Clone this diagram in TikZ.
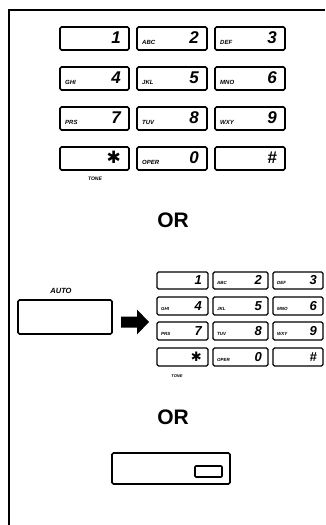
\documentclass[tikz,border=0pt]{standalone}
\usepackage{fontspec}
\setmainfont{Liberation Sans}
\begin{document}
\begin{tikzpicture}[x=1pt,y=-1pt,
  keybox/.style={draw,line width=1.6pt,rounded corners=1.5pt},
  bigdigit/.style={anchor=base east,inner sep=0pt,font=\fontsize{17}{17}\selectfont\itshape\bfseries},
  smalldigit/.style={anchor=base east,inner sep=0pt,font=\fontsize{13}{13}\selectfont\itshape\bfseries},
  biglet/.style={anchor=base west,inner sep=0pt,font=\fontsize{6}{6}\selectfont\itshape\bfseries},
  smalllet/.style={anchor=base west,inner sep=0pt,font=\fontsize{4.5}{4.5}\selectfont\itshape\bfseries},
  ortext/.style={inner sep=0pt,font=\fontsize{21}{21}\selectfont\bfseries},
  tiny/.style={inner sep=0pt,font=\fontsize{5}{5}\selectfont\itshape\bfseries}]
\useasboundingbox (0,0) rectangle (325,525);
% frame
\draw[line width=1.4pt] (9,525) -- (9,10) -- (325,10);
% big keypad
\foreach \r/\ya/\yb in {1/27/50,2/67/90,3/107/130,4/147/170}{
  \foreach \c/\xa/\xb in {1/60/129,2/137/207,3/215/285}{
    \draw[keybox] (\xa,\ya) rectangle (\xb,\yb);
    \coordinate (B\r\c a) at (\xa+5,\yb-6);
    \coordinate (B\r\c b) at (\xb-8,\yb-6.5);
  }
}
\node[bigdigit] (b1) at (B11b) {1};
\node[bigdigit] (b2) at (B12b) {2};
\node[bigdigit] (b3) at (B13b) {3};
\node[bigdigit] (b4) at (B21b) {4};
\node[bigdigit] (b5) at (B22b) {5};
\node[bigdigit] (b6) at (B23b) {6};
\node[bigdigit] (b7) at (B31b) {7};
\node[bigdigit] (b8) at (B32b) {8};
\node[bigdigit] (b9) at (B33b) {9};
\node[bigdigit] (bs) at (B41b) {\fontspec{DejaVu Sans}\bfseries ✱};
\node[bigdigit] (b0) at (B42b) {0};
\node[bigdigit] (bh) at (B43b) {\#};
\node[biglet] (la) at (B12a) {ABC};
\node[biglet] (ld) at (B13a) {DEF};
\node[biglet] (lg) at (B21a) {GHI};
\node[biglet] (lj) at (B22a) {JKL};
\node[biglet] (lm) at (B23a) {MNO};
\node[biglet] (lp) at (B31a) {PRS};
\node[biglet] (lt) at (B32a) {TUV};
\node[biglet] (lw) at (B33a) {WXY};
\node[biglet] (lo) at (B42a) {OPER};
\node[tiny] (tone1) at (95,179) {TONE};
\node[ortext] (or1) at (173,220) {OR};
% auto key
\node[tiny,font=\fontsize{7.5}{7.5}\selectfont\itshape\bfseries] (auto) at (61,291) {AUTO};
\draw[keybox] (18,300) rectangle (112,334);
% arrow
\fill (121,316.5) -- (137,316.5) -- (137,309.5) -- (149,322) -- (137,334.5) -- (137,327.5) -- (121,327.5) -- cycle;
% small keypad
\foreach \r/\ya/\yb in {1/272/289,2/297/315,3/322/340,4/348/366}{
  \foreach \c/\xa/\xb in {1/157/208,2/213/268,3/273/323}{
    \draw[keybox,line width=1.4pt] (\xa,\ya) rectangle (\xb,\yb);
    \coordinate (S\r\c a) at (\xa+4,\yb-5);
    \coordinate (S\r\c b) at (\xb-6,\yb-5);
  }
}
\node[smalldigit] (s1) at (S11b) {1};
\node[smalldigit] (s2) at (S12b) {2};
\node[smalldigit] (s3) at (S13b) {3};
\node[smalldigit] (s4) at (S21b) {4};
\node[smalldigit] (s5) at (S22b) {5};
\node[smalldigit] (s6) at (S23b) {6};
\node[smalldigit] (s7) at (S31b) {7};
\node[smalldigit] (s8) at (S32b) {8};
\node[smalldigit] (s9) at (S33b) {9};
\node[smalldigit] (ss) at (S41b) {\fontspec{DejaVu Sans}\bfseries ✱};
\node[smalldigit] (s0) at (S42b) {0};
\node[smalldigit] (sh) at (S43b) {\#};
\node[smalllet] (ma) at (S12a) {ABC};
\node[smalllet] (md) at (S13a) {DEF};
\node[smalllet] (mg) at (S21a) {GHI};
\node[smalllet] (mj) at (S22a) {JKL};
\node[smalllet] (mm) at (S23a) {MNO};
\node[smalllet] (mp) at (S31a) {PRS};
\node[smalllet] (mt) at (S32a) {TUV};
\node[smalllet] (mw) at (S33a) {WXY};
\node[smalllet] (mo) at (S42a) {OPER};
\node[tiny,font=\fontsize{4}{4}\selectfont\itshape\bfseries] (tone2) at (177,376) {TONE};
\node[ortext] (or2) at (173,417) {OR};
% bottom box
\draw[keybox] (112,453) rectangle (230,484);
\draw[line width=1.6pt,rounded corners=1pt] (195,466) rectangle (222,477);
\end{tikzpicture}
\end{document}
